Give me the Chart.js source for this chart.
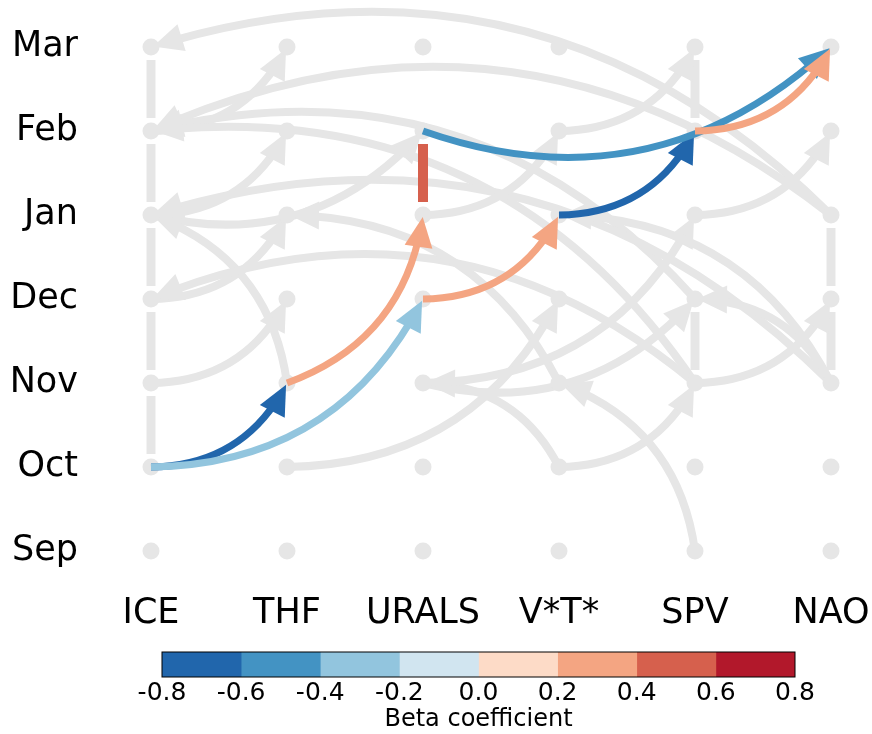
<!DOCTYPE html>
<html>
<head>
<meta charset="utf-8">
<script src="https://cdn.jsdelivr.net/npm/chart.js@4.4.0/dist/chart.umd.min.js"></script>
<style>
  body { margin: 0; background: #fff; }
  #graphBox { position: relative; width: 872px; height: 640px; }
  #barBox { position: relative; width: 872px; height: 94px; }
</style>
</head>
<body>
<div id="graphBox"><canvas id="graph"></canvas></div>
<div id="barBox"><canvas id="colorbar"></canvas></div>
<script>
var variables = ['ICE', 'THF', 'URALS', 'V*T*', 'SPV', 'NAO'];
var months = ['Sep', 'Oct', 'Nov', 'Dec', 'Jan', 'Feb', 'Mar'];

// month-to-month self links, drawn as plain bars: [variable, earlier month]
var autoLinks = [[0, 1], [0, 2], [0, 3], [0, 4], [0, 5], [4, 2], [4, 5], [5, 2], [5, 3]];

// other links of the graph (grey): [from var, from month, to var, to month]
var greyLinks = [
  [0, 2, 1, 3], [0, 3, 1, 4], [0, 4, 1, 5], [0, 5, 1, 6],
  [0, 4, 2, 5], [1, 2, 0, 4],
  [5, 4, 0, 6], [5, 4, 0, 5], [4, 3, 0, 5], [4, 2, 0, 5], [5, 2, 0, 4], [4, 2, 0, 3],
  [3, 2, 1, 4], [3, 1, 2, 2], [3, 1, 4, 2], [4, 0, 3, 2], [1, 1, 3, 3],
  [2, 2, 4, 3], [2, 2, 4, 4], [5, 2, 4, 3], [4, 2, 5, 3], [4, 4, 5, 5],
  [5, 2, 3, 4], [2, 4, 3, 5], [3, 5, 4, 6]
];

// highlighted pathway and the beta coefficient of each link
var pathLinks = [
  [0, 1, 1, 2], [0, 1, 2, 3], [1, 2, 2, 4], [2, 4, 2, 5],
  [2, 3, 3, 4], [3, 4, 4, 5], [2, 5, 5, 6], [4, 5, 5, 6]
];
var pathBeta = [-0.7, -0.3, 0.3, 0.5, 0.3, -0.7, -0.5, 0.3];

// colour bar
var betaBounds = [-0.8, -0.6, -0.4, -0.2, 0, 0.2, 0.4, 0.6, 0.8];
var betaColors = ['#2166ac', '#4393c3', '#92c5de', '#d1e5f0', '#fddbc7', '#f4a582', '#d6604d', '#b2182b'];

var GREY = '#e6e6e6';
var RAD = 0.3;

function betaColor(b) {
  for (var i = 0; i < betaColors.length; i++) {
    if (b >= betaBounds[i] && b < betaBounds[i + 1]) return betaColors[i];
  }
  return betaColors[betaColors.length - 1];
}

function pos(chart, v, m) {
  return [chart.scales.x.getPixelForValue(v), chart.scales.y.getPixelForValue(m)];
}

function drawBar(ctx, a, b, color, width) {
  var gap = 13;
  ctx.save();
  ctx.strokeStyle = color;
  ctx.lineWidth = width;
  ctx.beginPath();
  ctx.moveTo(a[0], a[1] - gap);
  ctx.lineTo(b[0], b[1] + gap);
  ctx.stroke();
  ctx.restore();
}

// curved arrow like matplotlib's arc3 connection style
function drawArrow(ctx, a, b, color, width) {
  var dx = b[0] - a[0], dy = b[1] - a[1];
  var c = [(a[0] + b[0]) / 2 - RAD * dy, (a[1] + b[1]) / 2 + RAD * dx];
  var ex = b[0] - c[0], ey = b[1] - c[1];
  var el = Math.sqrt(ex * ex + ey * ey);
  var ux = ex / el, uy = ey / el;
  var headLen = 30, headHalf = 14;
  var tip = [b[0] - ux * 2, b[1] - uy * 2];
  var base = [tip[0] - ux * headLen, tip[1] - uy * headLen];
  // stop the curve under the head
  var t = 1 - (headLen * 0.8) / (2 * el);
  var q1 = [a[0] + t * (c[0] - a[0]), a[1] + t * (c[1] - a[1])];
  var pt = [
    (1 - t) * (1 - t) * a[0] + 2 * t * (1 - t) * c[0] + t * t * b[0],
    (1 - t) * (1 - t) * a[1] + 2 * t * (1 - t) * c[1] + t * t * b[1]
  ];
  ctx.save();
  ctx.strokeStyle = color;
  ctx.fillStyle = color;
  ctx.lineWidth = width;
  ctx.beginPath();
  ctx.moveTo(a[0], a[1]);
  ctx.quadraticCurveTo(q1[0], q1[1], pt[0], pt[1]);
  ctx.stroke();
  ctx.beginPath();
  ctx.moveTo(tip[0], tip[1]);
  ctx.lineTo(base[0] - uy * headHalf, base[1] + ux * headHalf);
  ctx.lineTo(base[0] + uy * headHalf, base[1] - ux * headHalf);
  ctx.closePath();
  ctx.fill();
  ctx.restore();
}

var linkPlugin = {
  id: 'links',
  beforeDatasetsDraw: function (chart) {
    var ctx = chart.ctx;
    autoLinks.forEach(function (l) {
      drawBar(ctx, pos(chart, l[0], l[1]), pos(chart, l[0], l[1] + 1), GREY, 9);
    });
    greyLinks.forEach(function (l) {
      drawArrow(ctx, pos(chart, l[0], l[1]), pos(chart, l[2], l[3]), GREY, 8);
    });
  },
  afterDatasetsDraw: function (chart) {
    var ctx = chart.ctx;
    pathLinks.forEach(function (l, i) {
      var a = pos(chart, l[0], l[1]), b = pos(chart, l[2], l[3]);
      var col = betaColor(pathBeta[i]);
      if (l[0] === l[2]) drawBar(ctx, a, b, col, 10);
      else drawArrow(ctx, a, b, col, 7);
    });
  }
};

var nodes = [];
variables.forEach(function (v, i) {
  months.forEach(function (m, j) { nodes.push({ x: i, y: j }); });
});

var labelFont = { family: 'DejaVu Sans', size: 35 };

new Chart(document.getElementById('graph'), {
  type: 'scatter',
  data: {
    datasets: [{
      data: nodes,
      pointRadius: 8.5,
      pointHoverRadius: 8.5,
      backgroundColor: GREY,
      borderWidth: 0,
      clip: false
    }]
  },
  options: {
    responsive: true,
    maintainAspectRatio: false,
    animation: false,
    events: [],
    layout: { autoPadding: false, padding: { left: 0, right: 41, top: 47, bottom: 0 } },
    plugins: { legend: { display: false }, tooltip: { enabled: false } },
    scales: {
      x: {
        type: 'linear', min: 0, max: 5,
        grid: { display: false, drawTicks: false },
        border: { display: false },
        ticks: {
          stepSize: 1, autoSkip: false, maxRotation: 0, padding: 42,
          color: '#000', font: labelFont,
          callback: function (v) { return variables[v]; }
        },
        afterFit: function (s) { s.height = 89; s.paddingLeft = 0; s.paddingRight = 0; }
      },
      y: {
        type: 'linear', min: 0, max: 6,
        grid: { display: false, drawTicks: false },
        border: { display: false },
        ticks: {
          stepSize: 1, autoSkip: false, padding: 73,
          color: '#000', font: labelFont,
          callback: function (v) { return months[v]; }
        },
        afterFit: function (s) { s.width = 151; s.paddingTop = 0; s.paddingBottom = 0; }
      }
    }
  },
  plugins: [linkPlugin]
});

var outlinePlugin = {
  id: 'outline',
  afterDatasetsDraw: function (chart) {
    var a = chart.chartArea, ctx = chart.ctx;
    ctx.save();
    ctx.strokeStyle = '#000';
    ctx.lineWidth = 1;
    ctx.strokeRect(a.left, a.top, a.right - a.left, a.bottom - a.top);
    ctx.restore();
  }
};

new Chart(document.getElementById('colorbar'), {
  type: 'bar',
  data: {
    labels: ['beta'],
    datasets: betaColors.map(function (c, i) {
      return {
        data: [[betaBounds[i], betaBounds[i + 1]]],
        backgroundColor: c,
        borderWidth: 0,
        barPercentage: 1,
        categoryPercentage: 1,
        grouped: false
      };
    })
  },
  options: {
    indexAxis: 'y',
    responsive: true,
    maintainAspectRatio: false,
    animation: false,
    events: [],
    layout: { padding: { left: 162, right: 77, top: 12, bottom: 0 } },
    plugins: { legend: { display: false }, tooltip: { enabled: false } },
    scales: {
      x: {
        type: 'linear', min: -0.8, max: 0.8,
        grid: { display: false, drawTicks: false },
        border: { display: false },
        ticks: {
          stepSize: 0.2, autoSkip: false, maxRotation: 0, padding: 1,
          color: '#000', font: { family: 'DejaVu Sans', size: 25 },
          callback: function (v) { return v.toFixed(1); }
        },
        title: {
          display: true, text: 'Beta coefficient', color: '#000',
          font: { family: 'DejaVu Sans', size: 24 }, padding: { top: 0, bottom: 0 }
        },
        afterFit: function (s) { s.height = 57; }
      },
      y: { display: false }
    }
  },
  plugins: [outlinePlugin]
});
</script>
</body>
</html>
